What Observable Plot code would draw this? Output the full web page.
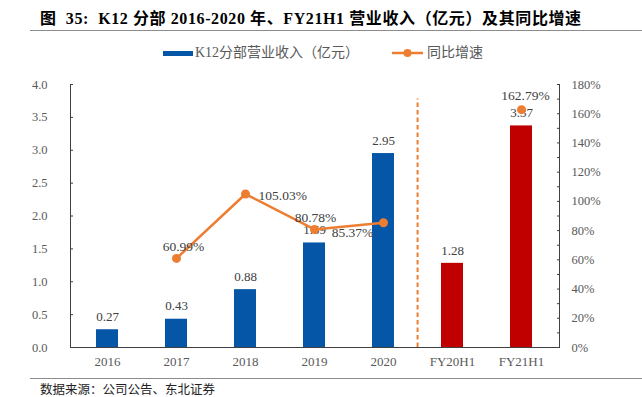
<!DOCTYPE html>
<html>
<head>
<meta charset="utf-8">
<script src="https://cdn.jsdelivr.net/npm/d3@7"></script>
<script src="https://cdn.jsdelivr.net/npm/@observablehq/plot@0.6"></script>
<style>
  body { margin:0; background:#fff; width:642px; height:397px; position:relative; overflow:hidden;
         font-family:"Liberation Serif","Noto Sans CJK SC",serif; }
  #title { position:absolute; left:40px; top:8px; font-size:16px; font-weight:bold; color:#000;
           letter-spacing:0.6px; white-space:nowrap; line-height:21px; }
  #rule1 { position:absolute; left:30px; right:0; top:30px; border-top:1.3px solid #8c8c8c; }
  .sw { position:absolute; }
  .lt { position:absolute; font-size:14px; line-height:16px; color:#595959; white-space:nowrap; }
  #chart { position:absolute; left:0; top:70px; }
  #rule2 { position:absolute; left:30px; right:0; top:378px; border-top:1px solid #8c8c8c; }
  #source { position:absolute; left:40px; top:383px; font-size:12.5px; line-height:15px; color:#222; white-space:nowrap; }
</style>
</head>
<body>
<div id="title">图&nbsp; 35:&nbsp; K12 分部 2016-2020 年、FY21H1 营业收入（亿元）及其同比增速</div>
<div id="rule1"></div>
<div id="legend"></div>
<div id="chart"></div>
<div id="rule2"></div>
<div id="source">数据来源：公司公告、东北证券</div>
<script>
// ---- data ----
const categories = ["2016", "2017", "2018", "2019", "2020", "FY20H1", "FY21H1"];
const revenue = [0.27, 0.43, 0.88, 1.59, 2.95, 1.28, 3.37];
const growth = [null, 60.99, 105.03, 80.78, 85.37, null, 162.79];
const leftTicks = [0, 0.5, 1, 1.5, 2, 2.5, 3, 3.5, 4];
const rightTicks = [0, 20, 40, 60, 80, 100, 120, 140, 160, 180];
const rightMinorTicks = [0, 10, 20, 30, 40, 50, 60, 70, 80, 90, 100, 110, 120, 130, 140, 150, 160, 170, 180];
const seriesNames = ["K12分部营业收入（亿元）", "同比增速"];
const dividerAt = "FY20H1";
const dividerTopPct = 170;

// ---- styles ----
const BLUE = "#0556A6", RED = "#C00000", ORANGE = "#ED7D31", AX = "#404040", TXT = "#595959";
const FONT = '"Liberation Serif","Noto Sans CJK SC",serif';
const W = 642, H = 300, ML = 70, MR = 83, MT = 14, MB = 23;
const yMax = 4, pctMax = 180, k = yMax / pctMax;
const step = (W - ML - MR) / categories.length;

// ---- legend ----
const legend = document.getElementById("legend");
legend.innerHTML = `
  <div class="sw" style="left:163px;top:50.5px;width:30px;height:5px;background:${BLUE}"></div>
  <div class="lt" style="left:195px;top:45px">${seriesNames[0]}</div>
  <svg class="sw" style="left:392px;top:47px" width="31" height="12">
    <line x1="0" y1="6" x2="31" y2="6" stroke="${ORANGE}" stroke-width="2.5"/>
    <circle cx="15.5" cy="6" r="4" fill="${ORANGE}"/>
  </svg>
  <div class="lt" style="left:427px;top:45px">${seriesNames[1]}</div>`;

// ---- chart ----
const rows = categories.map((c, i) => ({cat: c, rev: revenue[i], g: growth[i], half: c.startsWith("FY")}));
const gRows = rows.filter(d => d.g != null);
const pick = name => gRows.filter(d => d.cat === name);
const pctText = d => d.g.toFixed(2) + "%";
const pctOpts = (extra) => Object.assign({x: "cat", y: d => d.g * k, text: pctText, fontSize: 13.5, fill: "#404040", fontFamily: FONT}, extra);

const chart = Plot.plot({
  width: W, height: H, marginLeft: ML, marginRight: MR, marginTop: MT, marginBottom: MB,
  style: {fontFamily: FONT, fontSize: "12.5px", color: TXT, background: "transparent"},
  x: {domain: categories, paddingInner: 0.68, paddingOuter: 0.34},
  y: {domain: [0, yMax]},
  marks: [
    Plot.barY(rows, {x: "cat", y: "rev", fill: d => d.half ? RED : BLUE}),
    Plot.ruleX([dividerAt], {x: d => d, y1: 0, y2: dividerTopPct * k, stroke: ORANGE, strokeWidth: 2,
      strokeDasharray: "4.5,3", dx: -step / 2}),
    Plot.text(rows, {x: "cat", y: "rev", text: d => d.rev.toFixed(2), dy: -13, fontSize: 13, fill: "#404040", fontFamily: FONT}),
    Plot.line(rows, {x: "cat", y: d => d.g == null ? NaN : d.g * k, stroke: ORANGE, strokeWidth: 2.5}),
    Plot.dot(gRows, {x: "cat", y: d => d.g * k, r: 4.5, fill: ORANGE, stroke: "none"}),
    Plot.text(pick("2017"), pctOpts({dx: 7, dy: -12})),
    Plot.text(pick("2018"), pctOpts({dx: 13, dy: 2, textAnchor: "start"})),
    Plot.text(pick("2019"), pctOpts({dx: 1, dy: -12})),
    Plot.text(pick("2020"), pctOpts({dx: -31, dy: 10})),
    Plot.text(pick("FY21H1"), pctOpts({dx: 4, dy: -14})),
    Plot.frame({anchor: "left", stroke: AX}),
    Plot.frame({anchor: "right", stroke: AX}),
    Plot.frame({anchor: "bottom", stroke: AX}),
    Plot.axisY({anchor: "left", ticks: leftTicks, tickSize: 0, tickPadding: 23, tickFormat: d3.format(".1f"), fill: TXT, fontSize: 12.5, label: null}),
    Plot.axisY({anchor: "left", ticks: leftTicks, tickSize: 3, dx: 3, tickFormat: () => "", stroke: AX, label: null}),
    Plot.axisY({anchor: "right", ticks: rightTicks.map(p => p * k), tickSize: 0, tickPadding: 12,
      tickFormat: v => Math.round(v / k) + "%", fill: TXT, fontSize: 12.5, label: null}),
    Plot.axisY({anchor: "right", ticks: rightMinorTicks.map(p => p * k), tickSize: 3, dx: -3, tickFormat: () => "", stroke: AX, label: null}),
    Plot.axisX({tickSize: 0, tickPadding: 9, fontSize: 13, fill: TXT, label: null})
  ]
});
document.getElementById("chart").appendChild(chart);
</script>
</body>
</html>
